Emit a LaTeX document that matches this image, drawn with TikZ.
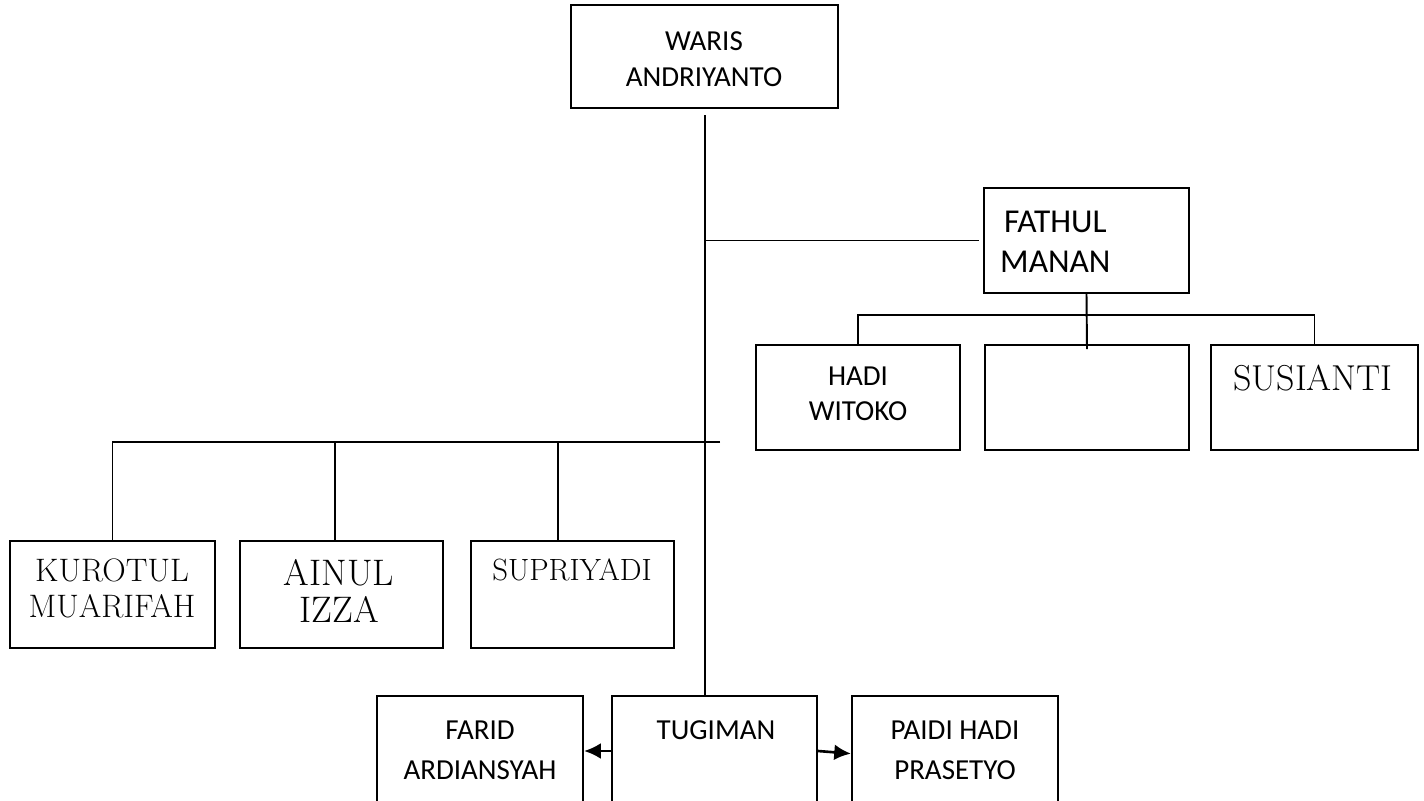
\documentclass[tikz,border=0pt]{standalone}
\usepackage{fontspec}
\setsansfont{Carlito}
\usetikzlibrary{positioning,fit,arrows.meta}

\begin{document}
\begin{tikzpicture}[x=0.02cm,y=-0.02cm,
  every text node part/.style={align=center},
  box/.style={draw, line width=1.2pt, inner sep=0pt},
  sans/.style={font=\sffamily\fontsize{16.5}{20.5}\selectfont},
  serif/.style={font=\rmfamily\fontsize{18.5}{20.5}\selectfont},
  bigserif/.style={font=\rmfamily\fontsize{20.5}{21.5}\selectfont},
  link/.style={line width=1.1pt},
  arr/.style={line width=1.5pt, -{Latex[length=9.5pt,width=9pt]}}]
  \useasboundingbox (0,0) rectangle (1424,801);
  \clip (0,0) rectangle (1424,801);
  \node (waris) [box, fit={(571,5) (838,108)}] {};
  \node (fathul) [box, fit={(984,188) (1189,293)}] {};
  \node (hadi) [box, fit={(756,345) (960,450)}] {};
  \node (kosong) [box, fit={(985,345) (1189,450)}] {};
  \node (susianti) [box, fit={(1211,345) (1418,450)}] {};
  \node (kurotul) [box, fit={(10,541) (215,648)}] {};
  \node (ainul) [box, fit={(240,541) (443,648)}] {};
  \node (supriyadi) [box, fit={(471,541) (674,648)}] {};
  \node (farid) [box, fit={(377,696) (583,806)}] {};
  \node (tugiman) [box, fit={(612,696) (817,806)}] {};
  \node (paidi) [box, fit={(852,696) (1058,806)}] {};
  \node (warisT) [sans] at (704,59) {WARIS\\ANDRIYANTO};
  \node (fathulT) [sans, font=\sffamily\fontsize{19}{22.7}\selectfont, align=left, anchor=west] at (994,242) {FATHUL\\MANAN};
  \node (hadiT) [sans, font=\sffamily\fontsize{16.5}{19.8}\selectfont] at (858,394) {HADI\\WITOKO};
  \node (susiantiT) [bigserif] at (1313,378) {SUSIANTI};
  \node (kurotulT) [serif] at (112,588) {KUROTUL\\MUARIFAH};
  \node (ainulT) [bigserif, font=\rmfamily\fontsize{21}{21.5}\selectfont] at (339,591) {AINUL\\IZZA};
  \node (supriyadiT) [serif, font=\rmfamily\fontsize{17.5}{20.5}\selectfont] at (572,570) {SUPRIYADI};
  \node (tugimanT) [sans] at (716,730) {TUGIMAN};
  \node (faridT) [sans, font=\sffamily\fontsize{16.5}{22.7}\selectfont] at (480,750) {FARID\\ARDIANSYAH};
  \node (paidiT) [sans, font=\sffamily\fontsize{16.5}{22.7}\selectfont] at (955,750) {PAIDI HADI\\PRASETYO};
  \coordinate (trunk) at (705,115);
  \coordinate (fbar) at (1088,315);
  \coordinate (lbar) at (720,442);
  \draw[link] (trunk) -- (trunk |- tugiman.north);
  \draw[link] (trunk |- fathul.west) -- ([xshift=-2pt]fathul.west);
  \draw[link] (fathul.south) -- ([yshift=-3pt]kosong.north);
  \draw[link] (hadi.north) |- (fbar) -| (susianti.north);
  \draw[link] (lbar) -| (kurotul.north);
  \draw[link] ([xshift=-3.7pt]ainul.north) -- ++(0,-99);
  \draw[link] ([xshift=-8.2pt]supriyadi.north) -- ++(0,-99);
  \draw[arr] (tugiman.west) -- (farid.east);
  \draw[arr] (tugiman.east) -- ([yshift=-1.5pt]paidi.west);
\end{tikzpicture}
\end{document}
